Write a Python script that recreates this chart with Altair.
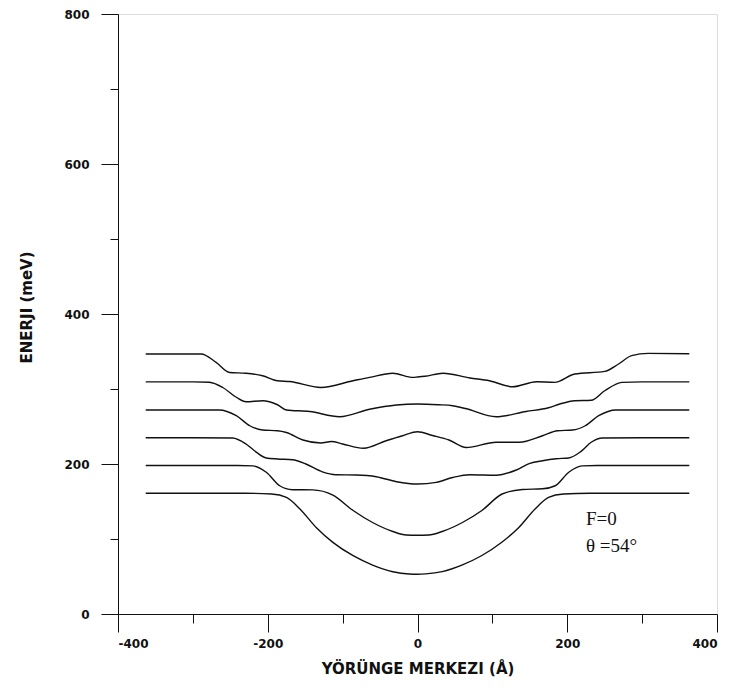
import altair as alt
import pandas as pd

# ---- data (x: orbit centre in Å, e: energy in meV) ----
x_n0 = [-363, -300, -230, -195, -175, -157, -135, -113, -86, -60, -33, -11, 0,
        11, 33, 60, 86, 113, 135, 157, 175, 195, 230, 300, 363]
e_n0 = [161, 161, 161, 160, 155.5, 140, 115, 95.5, 77.7, 65.3, 56.4, 53.3, 53,
        53.5, 56.5, 65.5, 78, 96, 115, 140, 155.5, 160, 161, 161, 161]

x_n1 = [-363, -300, -240, -220, -202, -184, -167, -140, -113, -86, -60, -33, -15, 0,
        15, 33, 60, 86, 113, 140, 167, 184, 202, 220, 240, 300, 363]
e_n1 = [198, 198, 198, 197.5, 189, 171, 165.7, 165.5, 158.5, 138, 122, 110, 105.3, 105,
        105.3, 110, 122, 138, 160, 166, 167, 171, 189, 197.5, 198, 198, 198]

x_n2 = [-363, -300, -247, -229, -215, -202, -187, -167, -149, -127, -109, -82, -55, -28, 0,
        25, 47, 70, 105, 132, 150, 167, 185, 202, 218, 232, 247, 300, 363]
e_n2 = [235, 235, 234.7, 226.7, 215.5, 208, 206.7, 205.7, 200, 189.5, 185.7, 185.3, 183, 176.4, 173.3,
        175.5, 182, 185.7, 185, 192, 200.8, 204.4, 207, 208, 216.5, 229, 234.7, 235, 235]

x_n3 = [-363, -300, -265, -242, -224, -207, -187, -175, -153, -129, -115, -100, -72, -42, -20, 0,
        20, 42, 65, 105, 136, 167, 187, 207, 224, 242, 265, 300, 363]
e_n3 = [272, 272, 272, 264.4, 251, 245.3, 244.4, 242, 232, 228, 230, 226.7, 221, 231, 237.7, 243,
        238, 232, 222, 229, 229, 237.7, 244.4, 245.3, 251, 264.4, 272, 272, 272]

x_n4 = [-363, -300, -278, -260, -242, -229, -207, -187, -175, -144, -104, -64, -28, 0,
        28, 47, 64, 105, 145, 175, 190, 210, 232, 250, 273, 300, 363]
e_n4 = [309.5, 309.5, 309, 302, 289, 283, 284.4, 279, 272, 270, 263, 273, 278.7, 280,
        279, 277.7, 274, 263, 270, 275, 280, 284.4, 285, 297.7, 308.8, 309.5, 309.5]

x_n5 = [-363, -289, -269, -251, -229, -207, -187, -171, -129, -86, -64, -33, -6, 0,
        10, 34, 70, 96, 127, 159, 183, 210, 250, 268, 286, 308, 363]
e_n5 = [346.7, 346.7, 335.5, 322, 321, 317.7, 311, 310, 302, 311, 315.5, 321, 315.5, 316,
        317, 321, 314.7, 311, 303, 309.7, 308.8, 320, 323.5, 333, 344.4, 347.5, 347]

x_major = [-400, -200, 0, 200, 400]
x_minor = [-300, -100, 100, 300]
y_major = [0, 200, 400, 600, 800]
y_minor = [100, 300, 500, 700]

ann_x = [225, 225]
ann_y = [127, 91]
ann_text = ["F=0", "\u03b8 =54\u00b0"]

# ---- tables ----
curves = [(x_n0, e_n0), (x_n1, e_n1), (x_n2, e_n2), (x_n3, e_n3), (x_n4, e_n4), (x_n5, e_n5)]
rows = []
for lvl, (xs, es) in enumerate(curves):
    for i, (xv, ev) in enumerate(zip(xs, es)):
        rows.append({"x": xv, "e": ev, "level": lvl, "order": i})
df = pd.DataFrame(rows)
ann = pd.DataFrame({"x": ann_x, "e": ann_y, "t": ann_text})

FONT = "DejaVu Sans"
INK = "#111111"
xscale = alt.Scale(domain=[-400, 400], nice=False, zero=False)
yscale = alt.Scale(domain=[0, 800], nice=False)

lines = alt.Chart(df).mark_line(
    color=INK, strokeWidth=1.4, interpolate="monotone"
).encode(
    x=alt.X("x:Q", scale=xscale, axis=alt.Axis(
        values=x_major, tickSize=18, labelPadding=6, labelFont=FONT, labelFontSize=12,
        labelFontWeight="bold", labelColor=INK, tickColor=INK, domainColor=INK,
        grid=False, orient="bottom", labelExpr="'' + datum.value",
        title="YÖRÜNGE MERKEZI (Å)", titleFont=FONT, titleFontSize=15,
        titleFontWeight="bold", titleColor=INK, titleY=54, titleBaseline="middle")),
    y=alt.Y("e:Q", scale=yscale, axis=alt.Axis(
        values=y_major, tickSize=17, labelPadding=12, labelFont=FONT, labelFontSize=12,
        labelFontWeight="bold", labelColor=INK, tickColor=INK, domainColor=INK,
        grid=False, orient="left", labelExpr="'' + datum.value",
        title="ENERJI (meV)", titleFont=FONT, titleFontSize=15, titleFontWeight="bold",
        titleColor=INK, titleX=-92, titleY=293, titleAngle=270,
        titleBaseline="middle", titleAlign="center")),
    detail="level:N",
    order="order:Q",
)

minor = alt.Chart(df).mark_point(opacity=0).encode(
    x=alt.X("x:Q", scale=xscale, axis=alt.Axis(
        values=x_minor, tickSize=9, labels=False, domain=False, grid=False,
        tickColor=INK, orient="bottom", title="")),
    y=alt.Y("e:Q", scale=yscale, axis=alt.Axis(
        values=y_minor, tickSize=8, labels=False, domain=False, grid=False,
        tickColor=INK, orient="left", title="")),
)

text = alt.Chart(ann).mark_text(
    font="Liberation Serif", fontSize=19, align="left", baseline="middle", color=INK
).encode(
    x=alt.X("x:Q", scale=xscale, axis=None),
    y=alt.Y("e:Q", scale=yscale, axis=None),
    text="t:N",
)

chart = alt.layer(lines, minor, text).resolve_axis(
    x="independent", y="independent"
).properties(
    width=599, height=600,
    autosize=alt.AutoSizeParams(type="none"),
    padding={"left": 110, "top": 6, "right": 7, "bottom": 70},
).configure_view(
    stroke=INK, strokeWidth=1
).configure(background="white")

chart.save("out.html", embed_options={"renderer": "svg", "actions": False})
